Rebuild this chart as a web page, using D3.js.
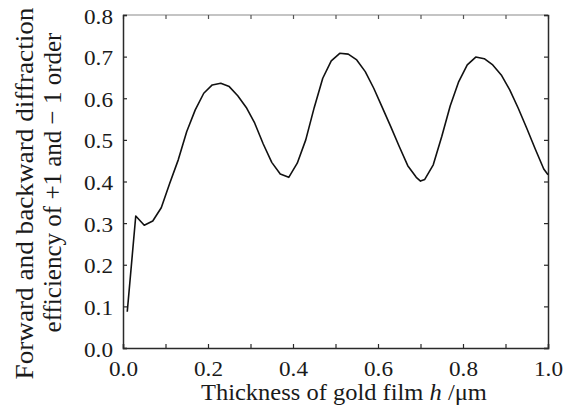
<!DOCTYPE html>
<html>
<head>
<meta charset="utf-8">
<script src="https://cdn.jsdelivr.net/npm/d3@7"></script>
<style>
  html, body { margin: 0; padding: 0; background: #fff; }
  svg { display: block; }
</style>
</head>
<body>
<svg id="chart" width="578" height="412"></svg>
<script>
// ---- data ----
const thickness = [0.01, 0.03, 0.05, 0.07, 0.09, 0.11, 0.13, 0.15, 0.17, 0.19,
  0.21, 0.23, 0.25, 0.27, 0.29, 0.31, 0.33, 0.35, 0.37, 0.39,
  0.41, 0.43, 0.45, 0.47, 0.49, 0.51, 0.53, 0.55, 0.57, 0.59,
  0.61, 0.63, 0.65, 0.67, 0.69, 0.70, 0.71, 0.73, 0.75, 0.77,
  0.79, 0.81, 0.83, 0.85, 0.87, 0.89, 0.91, 0.93, 0.95, 0.97, 0.99, 1.00];
const efficiency = [0.087, 0.317, 0.295, 0.305, 0.337, 0.396, 0.452, 0.520, 0.572, 0.612,
  0.632, 0.636, 0.628, 0.606, 0.578, 0.540, 0.490, 0.446, 0.418, 0.410,
  0.444, 0.500, 0.578, 0.648, 0.690, 0.708, 0.706, 0.692, 0.664, 0.624,
  0.578, 0.532, 0.484, 0.438, 0.410, 0.401, 0.405, 0.440, 0.508, 0.582,
  0.640, 0.680, 0.699, 0.695, 0.680, 0.656, 0.620, 0.576, 0.528, 0.478, 0.430, 0.416];
const xTicks = [0, 0.1, 0.2, 0.3, 0.4, 0.5, 0.6, 0.7, 0.8, 0.9, 1.0];
const xTickLabels = ["0.0", "", "0.2", "", "0.4", "", "0.6", "", "0.8", "", "1.0"];
const yTicks = [0, 0.1, 0.2, 0.3, 0.4, 0.5, 0.6, 0.7, 0.8];
const yTickLabels = ["0.0", "0.1", "0.2", "0.3", "0.4", "0.5", "0.6", "0.7", "0.8"];
const xTitle = ["Thickness of gold film ", "h", " /\u03bcm"];
const yTitle = ["Forward and backward diffraction", "efficiency of +1 and \u2212 1 order"];

// ---- layout ----
const FONT = '"Liberation Serif"';
const L = 123, R = 548, T = 15, B = 348;
const svg = d3.select("#chart");
const x = d3.scaleLinear().domain([0, 1]).range([L, R]);
const y = d3.scaleLinear().domain([0, 0.8]).range([B, T]);
const axisColor = "#2a2a2a";

// horizontal stretch factor so a text spans the wanted width
function stretch(node, target) {
  const w = node.getComputedTextLength();
  return w > 0 ? target / w : 1;
}

// top frame line (light)
svg.append("line").attr("x1", L).attr("x2", R).attr("y1", T).attr("y2", T)
  .attr("stroke", "#8a8a8a").attr("stroke-width", 1.2);

const gB = svg.append("g").attr("transform", `translate(0,${B})`)
  .call(d3.axisBottom(x).tickValues(xTicks).tickSize(-4).tickFormat((d, i) => xTickLabels[i]));
const gT = svg.append("g").attr("transform", `translate(0,${T})`)
  .call(d3.axisTop(x).tickValues(xTicks).tickSize(-4).tickFormat(""));
const gL = svg.append("g").attr("transform", `translate(${L},0)`)
  .call(d3.axisLeft(y).tickValues(yTicks).tickSize(-4).tickFormat((d, i) => yTickLabels[i]));
const gR = svg.append("g").attr("transform", `translate(${R},0)`)
  .call(d3.axisRight(y).tickValues(yTicks).tickSize(-4).tickFormat(""));

[gB, gL, gR].forEach(g => {
  g.select(".domain").attr("stroke", axisColor).attr("stroke-width", 1.5);
});
gT.select(".domain").remove();
[gB, gT, gL, gR].forEach(g => {
  g.attr("font-family", null).attr("font-size", null);
  g.selectAll(".tick line").attr("stroke", axisColor).attr("stroke-width", 1.2);
});
gT.selectAll(".tick line").attr("stroke", "#555");

gB.selectAll(".tick text")
  .attr("x", 0).attr("y", 0).attr("dy", null)
  .attr("fill", "#1a1a1a")
  .style("font-family", FONT).style("font-size", "21px")
  .each(function () {
    const s = stretch(this, 29);
    d3.select(this).attr("transform", `translate(0,28) scale(${s},1)`);
  });
gL.selectAll(".tick text")
  .attr("x", 0).attr("y", 0).attr("dy", null)
  .attr("fill", "#1a1a1a")
  .style("font-family", FONT).style("font-size", "21px")
  .each(function () {
    const s = stretch(this, 29);
    d3.select(this).attr("transform", `translate(-10,8) scale(${s},1)`);
  });

// curve
const line = d3.line()
  .x((d, i) => x(thickness[i]))
  .y(d => y(d))
  .curve(d3.curveLinear);
svg.append("path")
  .datum(efficiency)
  .attr("d", line)
  .attr("fill", "none")
  .attr("stroke", "#111")
  .attr("stroke-width", 1.6)
  .attr("stroke-linejoin", "round");

// x title
const xt = svg.append("text")
  .attr("x", 0).attr("y", 0)
  .attr("fill", "#1a1a1a")
  .style("font-family", FONT).style("font-size", "23px");
xt.append("tspan").text(xTitle[0]);
xt.append("tspan").style("font-style", "italic").text(xTitle[1]);
xt.append("tspan").text(xTitle[2]);
xt.attr("transform", `translate(201,400) scale(${stretch(xt.node(), 286)},1)`);

// y title (two lines)
const yt1 = svg.append("text")
  .attr("text-anchor", "middle")
  .attr("fill", "#1a1a1a")
  .style("font-family", FONT).style("font-size", "26px")
  .text(yTitle[0]);
yt1.attr("transform", `translate(33,193.5) rotate(-90) scale(${stretch(yt1.node(), 372)},1)`);
const yt2 = svg.append("text")
  .attr("text-anchor", "middle")
  .attr("fill", "#1a1a1a")
  .style("font-family", FONT).style("font-size", "26px")
  .text(yTitle[1]);
yt2.attr("transform", `translate(61,182.5) rotate(-90) scale(${stretch(yt2.node(), 300)},1)`);
</script>
</body>
</html>
